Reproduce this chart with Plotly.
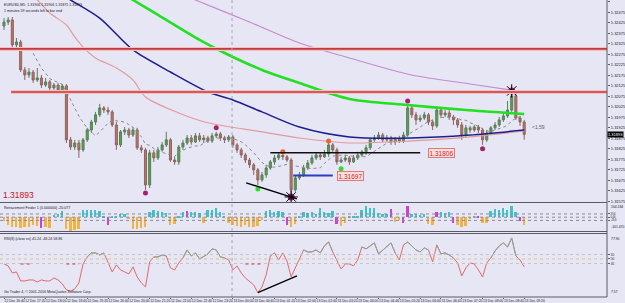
import plotly.graph_objects as go

# ---------------- data ----------------
BARS = list(range(126))

OPEN = [1.32409, 1.32428, 1.32438, 1.32319, 1.32333, 1.32200, 1.32176, 1.32190, 1.32152, 1.32162,
        1.32128, 1.32143, 1.32114, 1.32128, 1.32105, 1.32124, 1.31867, 1.31833, 1.31852, 1.31819,
        1.31867, 1.31914, 1.31952, 1.31986, 1.32019, 1.32009, 1.32000, 1.31938, 1.31843, 1.31905,
        1.31914, 1.31890, 1.31914, 1.31829, 1.31819, 1.31652, 1.31805, 1.31781, 1.31819, 1.31843,
        1.31867, 1.31771, 1.31762, 1.31833, 1.31852, 1.31876, 1.31857, 1.31886, 1.31867, 1.31876,
        1.31862, 1.31886, 1.31895, 1.31876, 1.31867, 1.31881, 1.31843, 1.31819, 1.31795, 1.31771,
        1.31748, 1.31724, 1.31676, 1.31700, 1.31733, 1.31762, 1.31781, 1.31795, 1.31786, 1.31771,
        1.31629, 1.31686, 1.31700, 1.31733, 1.31757, 1.31781, 1.31795, 1.31786, 1.31800, 1.31843,
        1.31819, 1.31762, 1.31771, 1.31781, 1.31762, 1.31781, 1.31795, 1.31810, 1.31829, 1.31867,
        1.31876, 1.31890, 1.31867, 1.31876, 1.31857, 1.31871, 1.31862, 1.31890, 1.32019, 1.31986,
        1.31962, 1.31971, 1.31986, 1.31952, 1.31933, 1.32009, 1.31986, 1.31995, 1.31976, 1.31962,
        1.31938, 1.31890, 1.31924, 1.31914, 1.31928, 1.31914, 1.31867, 1.31900, 1.31924, 1.31938,
        1.31962, 1.31981, 1.32009, 1.32076, 1.31971, 1.31952]

HIGH = [1.32447, 1.32452, 1.32452, 1.32352, 1.32343, 1.32214, 1.32209, 1.32200, 1.32209, 1.32176,
        1.32162, 1.32152, 1.32138, 1.32138, 1.32133, 1.32133, 1.31881, 1.31867, 1.31867, 1.31876,
        1.31924, 1.31962, 1.32000, 1.32038, 1.32028, 1.32024, 1.32009, 1.31952, 1.31914, 1.31928,
        1.31924, 1.31928, 1.31924, 1.31843, 1.31829, 1.31819, 1.31819, 1.31833, 1.31857, 1.31905,
        1.31876, 1.31786, 1.31843, 1.31867, 1.31890, 1.31890, 1.31900, 1.31900, 1.31890, 1.31886,
        1.31900, 1.31905, 1.31905, 1.31886, 1.31890, 1.31890, 1.31852, 1.31829, 1.31805, 1.31781,
        1.31757, 1.31733, 1.31714, 1.31748, 1.31771, 1.31795, 1.31805, 1.31795, 1.31795, 1.31781,
        1.31700, 1.31714, 1.31748, 1.31771, 1.31795, 1.31805, 1.31805, 1.31819, 1.31852, 1.31852,
        1.31829, 1.31786, 1.31795, 1.31790, 1.31795, 1.31810, 1.31819, 1.31843, 1.31876, 1.31890,
        1.31905, 1.31900, 1.31890, 1.31886, 1.31881, 1.31886, 1.31905, 1.32038, 1.32028, 1.32000,
        1.31986, 1.32000, 1.31995, 1.31962, 1.32028, 1.32019, 1.32009, 1.32009, 1.31986, 1.31971,
        1.31952, 1.31938, 1.31933, 1.31938, 1.31938, 1.31924, 1.31914, 1.31933, 1.31952, 1.31976,
        1.31995, 1.32052, 1.32086, 1.32086, 1.31981, 1.31962]

LOW = [1.32390, 1.32414, 1.32295, 1.32305, 1.32190, 1.32152, 1.32162, 1.32138, 1.32143, 1.32114,
       1.32119, 1.32095, 1.32105, 1.32090, 1.32095, 1.31852, 1.31819, 1.31819, 1.31781, 1.31810,
       1.31857, 1.31900, 1.31938, 1.31976, 1.31995, 1.31986, 1.31928, 1.31819, 1.31833, 1.31890,
       1.31876, 1.31881, 1.31819, 1.31805, 1.31629, 1.31638, 1.31762, 1.31771, 1.31810, 1.31833,
       1.31762, 1.31748, 1.31748, 1.31819, 1.31843, 1.31843, 1.31852, 1.31857, 1.31852, 1.31852,
       1.31852, 1.31876, 1.31862, 1.31852, 1.31857, 1.31829, 1.31805, 1.31781, 1.31757, 1.31733,
       1.31700, 1.31652, 1.31667, 1.31686, 1.31724, 1.31748, 1.31771, 1.31771, 1.31762, 1.31605,
       1.31619, 1.31676, 1.31690, 1.31724, 1.31748, 1.31771, 1.31771, 1.31781, 1.31786, 1.31805,
       1.31748, 1.31757, 1.31762, 1.31748, 1.31757, 1.31771, 1.31786, 1.31795, 1.31819, 1.31857,
       1.31867, 1.31857, 1.31857, 1.31843, 1.31843, 1.31852, 1.31852, 1.31881, 1.31971, 1.31938,
       1.31952, 1.31962, 1.31938, 1.31914, 1.31924, 1.31971, 1.31976, 1.31962, 1.31938, 1.31924,
       1.31867, 1.31881, 1.31900, 1.31905, 1.31900, 1.31843, 1.31857, 1.31890, 1.31914, 1.31928,
       1.31952, 1.31971, 1.32000, 1.31962, 1.31933, 1.31867]

CLOSE = [1.32428, 1.32438, 1.32319, 1.32333, 1.32200, 1.32176, 1.32190, 1.32152, 1.32162, 1.32128,
         1.32143, 1.32114, 1.32128, 1.32105, 1.32124, 1.31867, 1.31833, 1.31852, 1.31819, 1.31867,
         1.31914, 1.31952, 1.31986, 1.32019, 1.32009, 1.32000, 1.31938, 1.31843, 1.31905, 1.31914,
         1.31890, 1.31914, 1.31829, 1.31819, 1.31652, 1.31805, 1.31781, 1.31819, 1.31843, 1.31867,
         1.31771, 1.31762, 1.31833, 1.31852, 1.31876, 1.31857, 1.31886, 1.31867, 1.31876, 1.31862,
         1.31886, 1.31895, 1.31876, 1.31867, 1.31881, 1.31843, 1.31819, 1.31795, 1.31771, 1.31748,
         1.31724, 1.31676, 1.31700, 1.31733, 1.31762, 1.31781, 1.31795, 1.31786, 1.31771, 1.31629,
         1.31686, 1.31700, 1.31733, 1.31757, 1.31781, 1.31795, 1.31786, 1.31800, 1.31843, 1.31819,
         1.31762, 1.31771, 1.31781, 1.31762, 1.31781, 1.31795, 1.31810, 1.31829, 1.31867, 1.31876,
         1.31890, 1.31867, 1.31876, 1.31857, 1.31871, 1.31862, 1.31890, 1.32019, 1.31986, 1.31962,
         1.31971, 1.31986, 1.31952, 1.31933, 1.32009, 1.31986, 1.31995, 1.31976, 1.31962, 1.31938,
         1.31890, 1.31924, 1.31914, 1.31928, 1.31914, 1.31867, 1.31900, 1.31924, 1.31938, 1.31962,
         1.31981, 1.32009, 1.32076, 1.31971, 1.31952, 1.31893]

# long moving averages (sampled at bars)
GREEN_MA_BAR = [25, 31, 37, 47, 54, 62, 71, 83, 97, 111, 125]
GREEN_MA = [1.32604, 1.32533, 1.32462, 1.32343, 1.32271, 1.32200, 1.32138, 1.32062, 1.32033, 1.32009, 1.31990]
BLUE_MA_BAR = [12, 16, 23, 31, 40, 49, 55, 62, 71, 83, 98, 112, 125]
BLUE_MA = [1.32581, 1.32533, 1.32447, 1.32295, 1.32190, 1.32095, 1.32057, 1.32000, 1.31928, 1.31881, 1.31876, 1.31890, 1.31914]
PINK_MA_BAR = [5, 8, 11, 15, 17, 19, 22, 27, 31, 34, 42, 49, 62, 71, 83, 98, 112, 125]
PINK_MA = [1.32571, 1.32533, 1.32471, 1.32414, 1.32357, 1.32309, 1.32257, 1.32209, 1.32152, 1.32071,
           1.31995, 1.31948, 1.31905, 1.31876, 1.31852, 1.31862, 1.31881, 1.31909]
PURPLE_MA_BAR = [40, 46, 59, 71, 83, 98, 112, 125]
PURPLE_MA = [1.32581, 1.32533, 1.32428, 1.32328, 1.32257, 1.32176, 1.32133, 1.32095]
SHORT_MA_PERIOD = 8

# horizontal levels / objects
RED_LEVELS = [1.32300, 1.32095]
BLACK_LEVEL = 1.31806
BLUE_LEVEL = 1.31697
TREND_MAIN = ([58.2, 70.4], [1.31662, 1.31586])
CURRENT_PRICE = 1.31893

# markers
PURPLE_DOT_BAR = [34, 51, 97, 115]
PURPLE_DOT = [1.31614, 1.31924, 1.32052, 1.31824]
ORANGE_DOT_BAR = [67, 78]
ORANGE_DOT = [1.31810, 1.31862]
GREEN_DOT_BAR = [61, 81]
GREEN_DOT = [1.31633, 1.31729]
STAR_BAR = [69, 122]
STAR = [1.31595, 1.32100]

# retracement finder histogram
HIST = [-30, -60, -70, -75, -80, -75, -70, -60, -65, -80,
        -75, -80, 15, 20, 45, -90, -100, -95, -85, 50,
        55, 52, 55, 45, 12, -55, 5, 8, 25, 20,
        -10, -85, -90, -80, -70, 40, 50, 45, 38, 30,
        -55, -50, 10, 35, 45, 40, 35, 30, -45, 55,
        50, 65, 40, 5, -40, -60, -65, -70, -60, -75,
        -70, -65, -20, 45, 55, 40, 45, 35, -60, -70,
        -50, 10, 40, 30, 35, 25, 65, 40, 30, 45,
        -50, -65, -45, 8, 10, 12, 50, 85, 65, 70,
        30, 20, 25, 60, -35, -20, -45, 85, 25, 20,
        15, 25, -50, -55, 40, 35, 30, 40, -40, -60,
        -70, -65, -10, 10, 8, -45, -40, 45, 60, 55,
        65, 50, 85, 40, -30, -60]
HIST_MAGENTA = [9, 25, 44, 68, 80, 93, 96, 97, 104, 108, 114, 124]
HIST_LEVELS = [23.6, 0.0, -23.6]
HIST_RANGE = [-101.47, 104.184]

# RSI
RSI = [44.5, 42.3, 34.4, 35.6, 25.5, 25.5, 26.6, 26.6, 24.4, 26.6,
       25.5, 25.5, 28.9, 26.6, 22.2, 15.5, 14.3, 16.6, 23.3, 44.5,
       52.3, 56.8, 56.8, 54.5, 56.8, 46.7, 35.6, 43.4, 37.8, 35.6,
       33.3, 41.2, 30.0, 23.3, 18.8, 46.7, 52.3, 52.3, 54.5, 53.4,
       40.1, 37.8, 45.6, 51.2, 60.1, 53.4, 56.8, 50.1, 53.4, 55.7,
       61.3, 60.1, 52.3, 51.2, 49.0, 37.8, 42.3, 34.4, 28.9, 24.4,
       21.0, 12.5, 18.8, 32.2, 53.4, 56.8, 49.0, 56.8, 47.8, 30.0,
       40.1, 49.0, 60.1, 57.9, 57.9, 60.1, 56.8, 64.6, 69.0, 57.9,
       49.0, 38.9, 44.5, 44.5, 42.3, 49.0, 63.5, 61.3, 64.6, 68.0,
       55.7, 60.1, 63.5, 68.0, 56.8, 49.0, 65.7, 69.0, 64.6, 60.1,
       57.9, 62.4, 60.1, 46.7, 65.7, 55.7, 56.8, 54.5, 51.2, 45.6,
       31.1, 40.1, 45.6, 44.5, 37.8, 30.0, 45.6, 51.2, 59.0, 64.6,
       68.0, 63.5, 73.5, 53.4, 49.0, 41.2]
RSI_LEVELS = [55, 50, 45]
RSI_RANGE = [7.57, 77.9]
RSI_TREND = ([61, 70.4], [12.5, 31.1])
RSI_DASH_SEGMENTS = [(4, 6.5), (15, 18), (58, 62)]
RSI_DASH_LEVEL = 44.4

TICK_BARS = list(range(0, 126, 5))
TICK_LABELS = ["12 Dec 16:40", "12 Dec 17:20", "12 Dec 18:00", "12 Dec 18:40", "12 Dec 19:20",
               "12 Dec 20:00", "12 Dec 20:40", "12 Dec 21:20", "12 Dec 22:00", "12 Dec 22:40",
               "12 Dec 23:20", "13 Dec 00:00", "13 Dec 00:40", "13 Dec 01:20", "13 Dec 02:00",
               "13 Dec 02:40", "13 Dec 03:20", "13 Dec 04:00", "13 Dec 04:40", "13 Dec 05:20",
               "13 Dec 06:00", "13 Dec 06:40", "13 Dec 07:20", "13 Dec 08:00", "13 Dec 08:40",
               "13 Dec 09:20"]
DAY_SEPARATOR_BAR = 54.8

PRICE_TICKS = [1.31575 + 0.0005 * k for k in range(20)]

# ---------------- style ----------------
BG = "#e6e6f5"
XR = [-0.96, 144.9]
FONT = "Liberation Sans"

fig = go.Figure()

fig.add_trace(go.Candlestick(
    x=BARS, open=OPEN, high=HIGH, low=LOW, close=CLOSE,
    increasing=dict(fillcolor="#3cb43c", line=dict(color="#5f7a5f", width=1)),
    decreasing=dict(fillcolor="#c27262", line=dict(color="#8a6660", width=1)),
    xaxis="x", yaxis="y", showlegend=False, hoverinfo="skip"))

# short dotted MA (computed from closes)
sma_x, sma_y = [], []
for i in range(SHORT_MA_PERIOD - 1, len(CLOSE)):
    sma_x.append(BARS[i])
    sma_y.append(sum(CLOSE[i - SHORT_MA_PERIOD + 1:i + 1]) / SHORT_MA_PERIOD)
fig.add_trace(go.Scatter(x=sma_x, y=sma_y, mode="lines",
                         line=dict(color="#8a8a8a", width=1, dash="dot"),
                         xaxis="x", yaxis="y", hoverinfo="skip"))

for xs, ys, col, w in [(PINK_MA_BAR, PINK_MA, "#e39a9a", 1.1),
                       (PURPLE_MA_BAR, PURPLE_MA, "#c48ccc", 1.1),
                       (BLUE_MA_BAR, BLUE_MA, "#1e1e8e", 1.5),
                       (GREEN_MA_BAR, GREEN_MA, "#22e022", 2.6)]:
    fig.add_trace(go.Scatter(x=xs, y=ys, mode="lines",
                             line=dict(color=col, width=w, shape="spline", smoothing=0.8),
                             xaxis="x", yaxis="y", hoverinfo="skip"))

# markers
fig.add_trace(go.Scatter(x=PURPLE_DOT_BAR, y=PURPLE_DOT, mode="markers",
                         marker=dict(color="#a8206e", size=5), xaxis="x", yaxis="y"))
fig.add_trace(go.Scatter(x=ORANGE_DOT_BAR, y=ORANGE_DOT, mode="markers",
                         marker=dict(color="#e8682a", size=5), xaxis="x", yaxis="y"))
fig.add_trace(go.Scatter(x=GREEN_DOT_BAR, y=GREEN_DOT, mode="markers",
                         marker=dict(color="#30dd30", size=5), xaxis="x", yaxis="y"))
fig.add_trace(go.Scatter(x=STAR_BAR, y=STAR, mode="markers",
                         marker=dict(color="#a8206e", size=7), xaxis="x", yaxis="y"))
fig.add_trace(go.Scatter(x=STAR_BAR, y=STAR, mode="markers",
                         marker=dict(symbol="asterisk-open", size=11, color="#000000",
                                     line=dict(color="#000000", width=1)),
                         xaxis="x", yaxis="y"))

# histogram
hcol = []
for i, v in enumerate(HIST):
    if i in HIST_MAGENTA:
        hcol.append("#d040d0")
    elif v >= 0:
        hcol.append("#3cc4c8")
    else:
        hcol.append("#f2b244")
fig.add_trace(go.Bar(x=BARS, y=HIST, marker=dict(color=hcol, line=dict(width=0)),
                     width=0.45, xaxis="x2", yaxis="y2", hoverinfo="skip"))

# RSI (red below 50, grey-green above)
fig.add_trace(go.Scatter(x=BARS, y=RSI, mode="lines", line=dict(color="#e06a6a", width=1),
                         xaxis="x3", yaxis="y3", hoverinfo="skip"))
rsi_hi = [v if v >= 50 else None for v in RSI]
fig.add_trace(go.Scatter(x=BARS, y=rsi_hi, mode="lines", line=dict(color="#86a896", width=1),
                         connectgaps=False, xaxis="x3", yaxis="y3", hoverinfo="skip"))

shapes = []
# red horizontal levels with pale halo
for lvl, x0 in zip(RED_LEVELS, [XR[0], 1.7]):
    shapes.append(dict(type="line", xref="x", yref="y", x0=x0, x1=XR[1], y0=lvl, y1=lvl,
                       line=dict(color="#f2c0c0", width=4)))
    shapes.append(dict(type="line", xref="x", yref="y", x0=x0, x1=XR[1], y0=lvl, y1=lvl,
                       line=dict(color="#c43a3a", width=1.6)))
shapes.append(dict(type="line", xref="x", yref="y", x0=64, x1=100, y0=BLACK_LEVEL, y1=BLACK_LEVEL,
                   line=dict(color="#101010", width=1.5)))
shapes.append(dict(type="line", xref="x", yref="y", x0=69.5, x1=79, y0=BLUE_LEVEL, y1=BLUE_LEVEL,
                   line=dict(color="#2a3cc0", width=2)))
shapes.append(dict(type="line", xref="x", yref="y", x0=TREND_MAIN[0][0], x1=TREND_MAIN[0][1],
                   y0=TREND_MAIN[1][0], y1=TREND_MAIN[1][1], line=dict(color="#000000", width=1.4)))
# day separator
shapes.append(dict(type="line", xref="x", yref="paper", x0=DAY_SEPARATOR_BAR, x1=DAY_SEPARATOR_BAR,
                   y0=0, y1=1, line=dict(color="#a8a8b8", width=1, dash="dot")))
# hist levels
for lvl in HIST_LEVELS:
    shapes.append(dict(type="line", xref="paper", yref="y2", x0=0, x1=1, y0=lvl, y1=lvl,
                       line=dict(color="#8a8a9a", width=1, dash="dot")))
# RSI levels
for lvl in RSI_LEVELS:
    shapes.append(dict(type="line", xref="paper", yref="y3", x0=0, x1=1, y0=lvl, y1=lvl,
                       line=dict(color="#d6c888" if lvl == 50 else "#c4c4cc", width=1, dash="dot")))
for a, b in RSI_DASH_SEGMENTS:
    shapes.append(dict(type="line", xref="x3", yref="y3", x0=a, x1=b, y0=RSI_DASH_LEVEL, y1=RSI_DASH_LEVEL,
                       line=dict(color="#d03a3a", width=1.2, dash="dot")))
shapes.append(dict(type="line", xref="x3", yref="y3", x0=RSI_TREND[0][0], x1=RSI_TREND[0][1],
                   y0=RSI_TREND[1][0], y1=RSI_TREND[1][1], line=dict(color="#000000", width=1.3)))
# panel frames
for py in [0.3182, 0.2205, 0.2138, 0.0]:
    shapes.append(dict(type="line", xref="paper", yref="paper", x0=0, x1=1, y0=py, y1=py,
                       line=dict(color="#5a5a66", width=1)))
shapes.append(dict(type="line", xref="paper", yref="paper", x0=1, x1=1, y0=0, y1=1,
                   line=dict(color="#5a5a66", width=1)))

ann = []
small = dict(family=FONT, size=3.6, color="#202020")
ann.append(dict(xref="paper", yref="paper", x=0.004, y=0.998, xanchor="left", yanchor="top",
                text="EURUSD,M5  1.31906 1.31906 1.31875 1.31893", showarrow=False, font=small))
ann.append(dict(xref="paper", yref="paper", x=0.004, y=0.978, xanchor="left", yanchor="top",
                text="1 minutes 59 seconds left to bar end", showarrow=False, font=small))
ann.append(dict(xref="paper", yref="paper", x=0.002, y=0.3215, xanchor="left", yanchor="bottom",
                text="1.31893", showarrow=False,
                font=dict(family=FONT, size=8.5, color="#c81414")))
for lvl, xb in [(BLACK_LEVEL, 102), (BLUE_LEVEL, 80)]:
    ann.append(dict(xref="x", yref="y", x=xb, y=lvl, xanchor="left", yanchor="middle",
                    text=f"{lvl:.5f}", showarrow=False, bgcolor="#f6dede", bordercolor="#e07a7a",
                    borderwidth=1, borderpad=0.5,
                    font=dict(family=FONT, size=6.5, color="#d02828")))
ann.append(dict(xref="x", yref="y", x=126.3, y=1.31928, xanchor="left", yanchor="middle",
                text="<1.59", showarrow=False, font=dict(family=FONT, size=5, color="#606060")))
ann.append(dict(xref="paper", yref="y", x=1.0, y=CURRENT_PRICE, xanchor="left", yanchor="middle",
                text=f"{CURRENT_PRICE:.5f}", showarrow=False, bgcolor="#000000", borderpad=0,
                font=dict(family=FONT, size=4, color="#ffffff")))
ann.append(dict(xref="paper", yref="y2 domain", x=0.004, y=0.97, xanchor="left", yanchor="top",
                text="Retracement Finder 1 (0.000000) -20.077", showarrow=False, font=small))
ann.append(dict(xref="paper", yref="y3 domain", x=0.004, y=0.98, xanchor="left", yanchor="top",
                text="RSI(8) (close ex) 41.24 -48.24 58.86", showarrow=False, font=small))
ann.append(dict(xref="paper", yref="y3 domain", x=0.004, y=0.01, xanchor="left", yanchor="bottom",
                text="Go Trader 4, © 2001-2016 MetaQuotes Software Corp.", showarrow=False, font=small))
for txt, yy, ya, ref in [(f"{HIST_RANGE[1]:.3f}", 1.0, "top", "y2 domain"),
                         (f"{HIST_RANGE[0]:.3f}", 0.0, "bottom", "y2 domain"),
                         (f"{RSI_RANGE[1]:.2f}", 0.99, "top", "y3 domain"),
                         (f"{RSI_RANGE[0]:.2f}", 0.01, "bottom", "y3 domain")]:
    ann.append(dict(xref="paper", yref=ref, x=1.004, y=yy, xanchor="left", yanchor=ya,
                    text=txt, showarrow=False, font=dict(family=FONT, size=3.4, color="#202020")))

axis_common = dict(showgrid=False, zeroline=False, showline=False, automargin=False)
yfont = dict(family=FONT, size=4, color="#202020")
fig.update_layout(
    width=625, height=303, margin=dict(l=0, r=18, t=0, b=6),
    paper_bgcolor=BG, plot_bgcolor=BG, showlegend=False, bargap=0,
    xaxis=dict(domain=[0, 1], range=XR, anchor="y", showticklabels=False, ticks="",
               rangeslider=dict(visible=False), **axis_common),
    yaxis=dict(domain=[0.3199, 1], range=[1.31571, 1.32533], side="right", anchor="x",
               tickvals=PRICE_TICKS, ticktext=[f"{v:.5f}" for v in PRICE_TICKS],
               tickfont=yfont, ticks="outside", ticklen=2, tickcolor="#606060", **axis_common),
    xaxis2=dict(domain=[0, 1], range=XR, anchor="y2", showticklabels=False, ticks="", **axis_common),
    yaxis2=dict(domain=[0.2222, 0.3165], range=HIST_RANGE, side="right", anchor="x2",
                tickvals=HIST_LEVELS, ticktext=["23.6", "0.00", "-23.6"],
                tickfont=dict(family=FONT, size=2.6, color="#202020"),
                ticks="outside", ticklen=2, tickcolor="#606060", **axis_common),
    xaxis3=dict(domain=[0, 1], range=XR, anchor="y3", tickvals=TICK_BARS, ticktext=TICK_LABELS,
                tickangle=0, tickfont=dict(family=FONT, size=3.4, color="#202020"), ticks="outside",
                ticklen=1, tickcolor="#606060", ticklabelposition="outside right", **axis_common),
    yaxis3=dict(domain=[0, 0.2121], range=RSI_RANGE, side="right", anchor="x3",
                tickvals=RSI_LEVELS, ticktext=[str(v) for v in RSI_LEVELS],
                tickfont=dict(family=FONT, size=3.2, color="#202020"),
                ticks="outside", ticklen=2, tickcolor="#606060", **axis_common),
    shapes=shapes, annotations=ann,
)

fig.write_html("out.html", config={"displayModeBar": False})
